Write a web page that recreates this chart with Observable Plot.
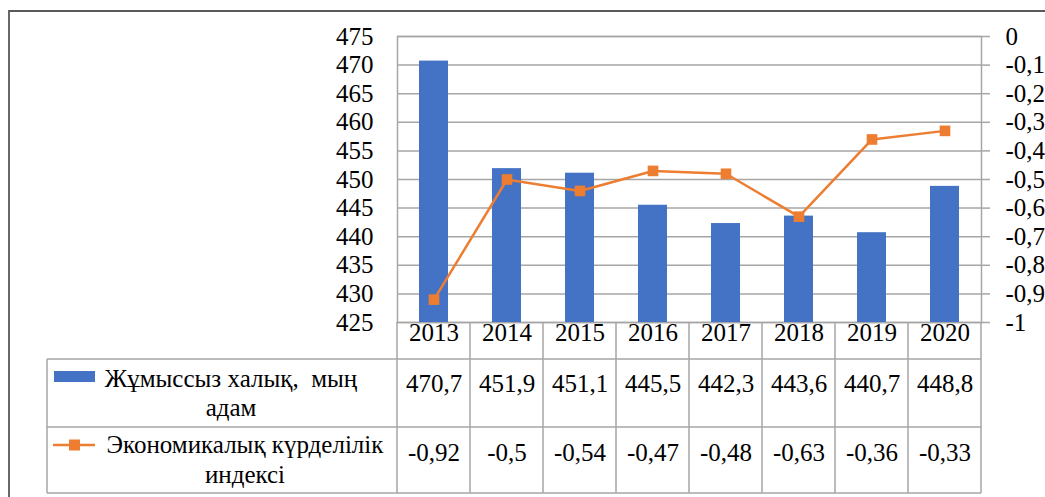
<!DOCTYPE html>
<html>
<head>
<meta charset="utf-8">
<script src="https://cdn.jsdelivr.net/npm/d3@7"></script>
<script src="https://cdn.jsdelivr.net/npm/@observablehq/plot@0.6"></script>
<style>
  html, body { margin: 0; padding: 0; background: #fff; }
</style>
</head>
<body>
<div id="chart"></div>
<script>
// ---- data ----
const years = [2013, 2014, 2015, 2016, 2017, 2018, 2019, 2020];
const unemployed = [470.7, 451.9, 451.1, 445.5, 442.3, 443.6, 440.7, 448.8];
const complexityIndex = [-0.92, -0.5, -0.54, -0.47, -0.48, -0.63, -0.36, -0.33];
const leftTicks = [425, 430, 435, 440, 445, 450, 455, 460, 465, 470, 475];
const rightTicks = [0, -0.1, -0.2, -0.3, -0.4, -0.5, -0.6, -0.7, -0.8, -0.9, -1];
const seriesNameLines = [
  ["Жұмыссыз халық,  мың", "адам"],
  ["Экономикалық күрделілік", "индексі"]
];
const barColor = "#4472C4";
const lineColor = "#ED7D31";

// ---- helpers ----
const data = years.map((year, i) => ({year, unemployed: unemployed[i], index: complexityIndex[i]}));
const yMin = 425, yMax = 475, rMin = -1, rMax = 0;
const toLeft = v => yMin + (v - rMin) / (rMax - rMin) * (yMax - yMin);
const fromLeft = d => rMin + (d - yMin) / (yMax - yMin) * (rMax - rMin);
const comma = v => String(v).replace(".", ",");
const font = "Liberation Serif";
const grid = "#a6a6a6";

const plot = Plot.plot({
  width: 1045,
  height: 497,
  marginLeft: 397,
  marginRight: 64,
  marginTop: 36,
  marginBottom: 175,
  style: {fontFamily: font, fontSize: "25px", background: "#fff", color: "#000", overflow: "visible"},
  x: {type: "band", domain: years, paddingInner: 0.6, paddingOuter: 0.3, axis: null},
  y: {domain: [yMin, yMax], axis: null},
  marks: [
    Plot.gridY(leftTicks, {stroke: grid, strokeOpacity: 1, strokeWidth: 1.5}),
    Plot.frame({stroke: grid, strokeWidth: 1.5}),
    Plot.axisY(leftTicks, {anchor: "left", label: null, tickSize: 0, tickPadding: 24, tickFormat: d => String(d), fontFamily: font}),
    Plot.axisY(rightTicks.map(toLeft), {
      anchor: "right", label: null, tickSize: 8, tickPadding: 16, stroke: grid, strokeWidth: 1.5, strokeOpacity: 1,
      fontFamily: font,
      tickFormat: d => comma(Math.round(fromLeft(d) * 10) / 10)
    }),
    Plot.barY(data, {x: "year", y1: yMin, y2: "unemployed", fill: barColor}),
    Plot.line(data, {x: "year", y: d => toLeft(d.index), stroke: lineColor, strokeWidth: 2.5}),
    Plot.dot(data, {x: "year", y: d => toLeft(d.index), symbol: "square", r: 6, fill: lineColor, stroke: "none"}),
    Plot.text(data, {x: "year", text: d => String(d.year), frameAnchor: "bottom", dy: 18, fontFamily: font}),
    Plot.text(data, {x: "year", text: d => comma(d.unemployed), frameAnchor: "bottom", dy: 69, fontFamily: font}),
    Plot.text(data, {x: "year", text: d => comma(d.index), frameAnchor: "bottom", dy: 138, fontFamily: font})
  ]
});

document.getElementById("chart").appendChild(plot);

// ---- data table grid & legend keys, positioned from the Plot scales ----
const xs = plot.scale("x");
const ys = plot.scale("y");
const step = xs.step, bw = xs.bandwidth;
const bounds = years.map(y => xs.apply(y) - (step - bw) / 2);
bounds.push(bounds[bounds.length - 1] + step);
const right = bounds[bounds.length - 1];
const bottom = ys.apply(yMin);
const headBottom = bottom + 37, row1Bottom = bottom + 105, row2Bottom = bottom + 171;
const tableLeft = 47;

const svg = d3.select(plot);
const g = svg.append("g").attr("fill", "none").attr("stroke", grid).attr("stroke-width", 1.5);
bounds.forEach(bx => g.append("line").attr("x1", bx).attr("x2", bx).attr("y1", bottom).attr("y2", row2Bottom));
g.append("line").attr("x1", tableLeft).attr("x2", tableLeft).attr("y1", headBottom).attr("y2", row2Bottom);
[headBottom, row1Bottom, row2Bottom].forEach(yy =>
  g.append("line").attr("x1", tableLeft).attr("x2", right).attr("y1", yy).attr("y2", yy));

// legend keys
const lg = svg.append("g");
lg.append("rect").attr("x", 54).attr("y", headBottom + 12).attr("width", 41).attr("height", 11).attr("fill", barColor);
lg.append("line").attr("x1", 53).attr("x2", 95).attr("y1", row1Bottom + 18).attr("y2", row1Bottom + 18)
  .attr("stroke", lineColor).attr("stroke-width", 2.5);
lg.append("rect").attr("x", 69).attr("y", row1Bottom + 12.5).attr("width", 11).attr("height", 11).attr("fill", lineColor);

// legend text
const textCenters = [231, 245];
const baselines = [[headBottom + 28, headBottom + 57], [row1Bottom + 26, row1Bottom + 56]];
seriesNameLines.forEach((lines, r) => {
  lines.forEach((line, k) => {
    lg.append("text")
      .attr("x", textCenters[r]).attr("y", baselines[r][k])
      .attr("text-anchor", "middle")
      .style("white-space", "pre")
      .style("font-family", font).style("font-size", "25px").attr("fill", "#000")
      .text(line);
  });
});

// outer border of the chart box
svg.append("path")
  .attr("d", "M9,497V11H1045")
  .attr("fill", "none").attr("stroke", "#595959").attr("stroke-width", 1.8);
</script>
</body>
</html>
